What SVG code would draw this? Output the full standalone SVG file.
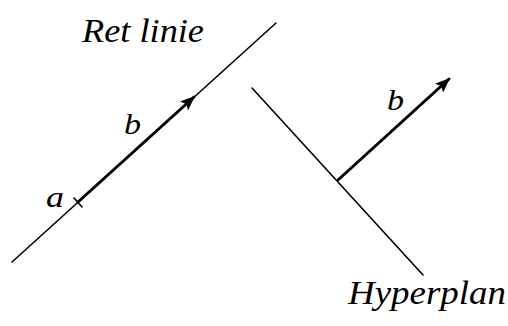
<svg xmlns="http://www.w3.org/2000/svg" width="508" height="326" viewBox="0 0 508 326">
<style>
.ln{stroke:#000;stroke-width:1.6;fill:none;stroke-linecap:round}
.vec{stroke:#000;stroke-width:3;fill:none;stroke-linecap:round}
.t{font-family:"Liberation Serif",serif;font-style:italic;fill:#000}
</style>
<defs>
<marker id="ah" viewBox="0 0 10 10" refX="9" refY="5" markerWidth="5" markerHeight="5" orient="auto" markerUnits="strokeWidth">
<path d="M0,1 L10,5 L0,9 L2,5 Z" fill="#000"/>
</marker>
</defs>
<rect width="508" height="326" fill="#fff"/>
<g id="ret-linie">
<line class="ln" x1="12" y1="262" x2="276" y2="23"/>
<text class="t" x="82" y="42" font-size="34" textLength="122" lengthAdjust="spacingAndGlyphs">Ret linie</text>
</g>
<g id="hyperplan">
<line class="ln" x1="252" y1="88" x2="423" y2="275"/>
<text class="t" x="348" y="304" font-size="33" textLength="158" lengthAdjust="spacingAndGlyphs">Hyperplan</text>
</g>
<g id="connectors">
<line class="vec" x1="78" y1="202" x2="194" y2="97" marker-end="url(#ah)"/>
<line class="ln" x1="74" y1="198" x2="82" y2="207"/>
<line class="vec" x1="338" y1="180" x2="449" y2="79" marker-end="url(#ah)"/>
</g>
<g id="labels">
<text class="t" x="46" y="207" font-size="29" textLength="18" lengthAdjust="spacingAndGlyphs">a</text>
<text class="t" x="124" y="134" font-size="30" textLength="17" lengthAdjust="spacingAndGlyphs">b</text>
<text class="t" x="387" y="110" font-size="30" textLength="17" lengthAdjust="spacingAndGlyphs">b</text>
</g>
</svg>
